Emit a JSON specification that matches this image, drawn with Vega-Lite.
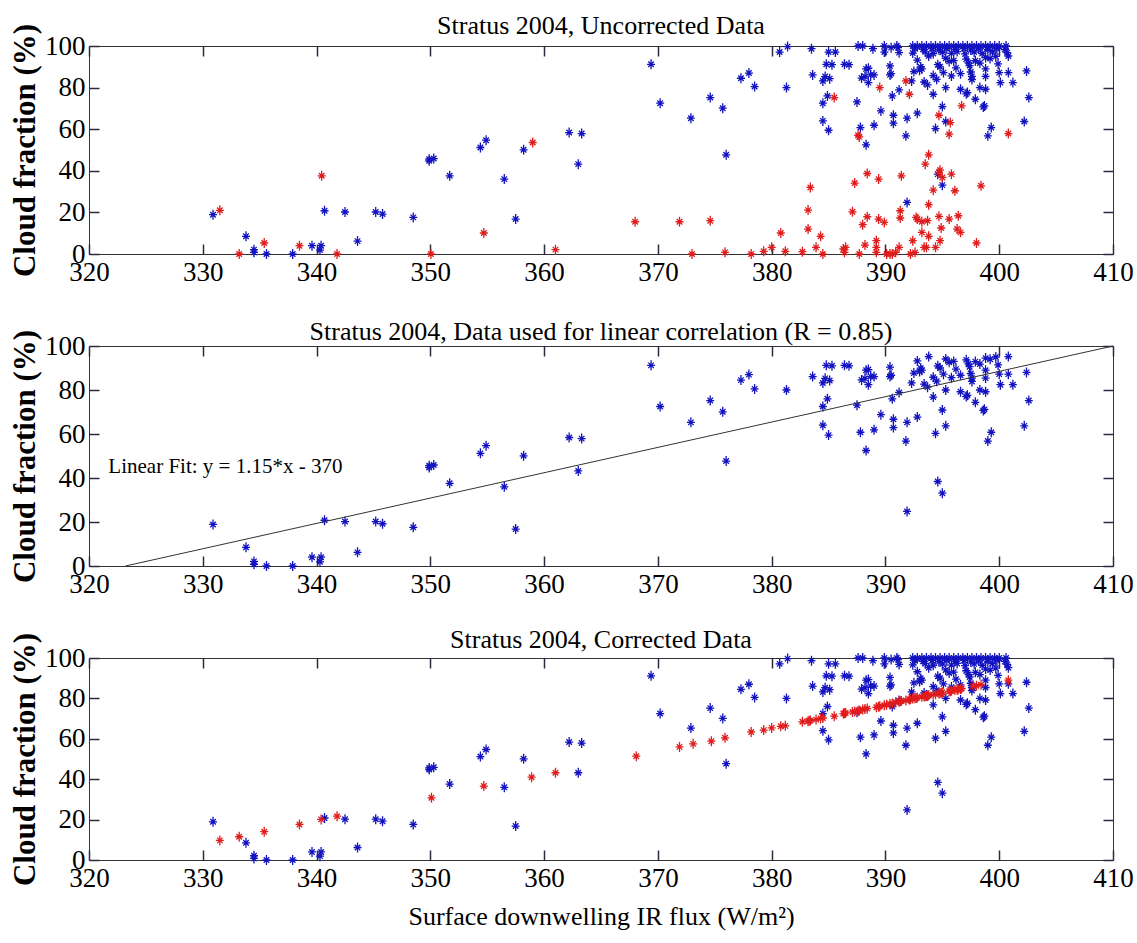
{
"$schema": "https://vega.github.io/schema/vega-lite/v6.json",
"padding": {"left": 8, "top": 12, "right": 5, "bottom": 2},
"spacing": 92,
"bounds": "flush",
"config": {
  "font": "Liberation Serif",
  "view": {"stroke": "#333", "strokeWidth": 1},
  "axis": {"grid": false, "domain": false, "labelFontSize": 27, "labelColor": "#000", "labelFont": "Liberation Serif", "titleFont": "Liberation Serif", "titleColor": "#000"},
  "title": {"fontSize": 26, "fontWeight": "normal", "font": "Liberation Serif", "color": "#000", "offset": -16}
},
"datasets": {
  "blue": [
    {"x":330.9,"y":18.9},{"x":333.8,"y":8.5},{"x":334.5,"y":2.1},{"x":334.5,"y":0.8},{"x":335.6,"y":0},{"x":337.9,"y":0},{"x":339.6,"y":4},{"x":340.4,"y":4},{"x":340.3,"y":1.9},{"x":340.7,"y":20.8},{"x":342.5,"y":20.2},{"x":343.6,"y":6.2},{"x":345.2,"y":20.2},{"x":345.8,"y":19.2},{"x":348.5,"y":17.6},{"x":349.9,"y":44.8},{"x":349.9,"y":45.6},{"x":350.3,"y":45.9},{"x":351.7,"y":37.6},{"x":354.4,"y":51.2},{"x":354.9,"y":54.7},{"x":356.5,"y":36},{"x":357.5,"y":16.8},{"x":358.2,"y":50.1},{"x":362.2,"y":58.4},{"x":363.3,"y":57.9},{"x":363.0,"y":43.2},
    {"x":369.4,"y":91.2},{"x":370.2,"y":72.5},{"x":372.9,"y":65.3},{"x":374.6,"y":75.2},{"x":375.7,"y":70.1},{"x":376.0,"y":47.7},{"x":377.3,"y":84.5},{"x":378.0,"y":87},{"x":378.5,"y":80.5},{"x":380.7,"y":97.1},{"x":381.4,"y":99.7},{"x":381.3,"y":80},{"x":383.5,"y":98.7},{"x":383.6,"y":86.1},{"x":384.5,"y":83.2},{"x":384.7,"y":85.3},{"x":384.8,"y":91.2},{"x":385.0,"y":97.1},{"x":385.6,"y":97.1},{"x":384.9,"y":76},{"x":384.5,"y":72.5},{"x":384.5,"y":64},{"x":385.0,"y":59.5},{"x":386.4,"y":91.2},{"x":387.5,"y":73.1},{"x":387.6,"y":100},{"x":388.0,"y":100},{"x":387.8,"y":60.8},{"x":388.2,"y":85.3},{"x":388.3,"y":52.5},{"x":388.5,"y":89.3},{"x":388.5,"y":82.4},{"x":388.9,"y":98.7},{"x":389.0,"y":86.1},{"x":389.0,"y":61.9},{"x":389.6,"y":68.8},{"x":389.9,"y":97.1},{"x":390.4,"y":90.4},{"x":390.5,"y":86.7},{"x":390.6,"y":76},{"x":390.7,"y":66.7},{"x":390.7,"y":62.9},{"x":391.2,"y":78.9},{"x":390.5,"y":99.2},{"x":391.1,"y":99.2},{"x":391.2,"y":96.8},{"x":391.8,"y":56.8},{"x":391.9,"y":65.3},{"x":391.9,"y":24.8},{"x":392.3,"y":83.2},{"x":392.5,"y":87.7},{"x":392.8,"y":67.7},{"x":393.1,"y":89.9},{"x":393.4,"y":82.7},{"x":393.7,"y":81.3},{"x":394.2,"y":76.8},{"x":394.4,"y":60.3},{"x":394.6,"y":38.4},{"x":395.0,"y":33.1},{"x":395.0,"y":70.9},{"x":395.3,"y":63.7},{"x":394.5,"y":84},{"x":395.3,"y":80},{"x":395.1,"y":87.2},{"x":395.8,"y":85.6},{"x":396.6,"y":79.2},{"x":397.2,"y":77.6},{"x":396.6,"y":86.7},{"x":397.5,"y":87.5},{"x":397.9,"y":74.4},{"x":398.3,"y":80},{"x":398.8,"y":79.2},{"x":398.7,"y":71.2},{"x":399.0,"y":56.8},{"x":399.3,"y":60.8},{"x":400.0,"y":87.2},{"x":400.1,"y":82.4},{"x":400.8,"y":87.2},{"x":401.2,"y":82.4},{"x":402.2,"y":63.7},{"x":402.4,"y":88},{"x":402.6,"y":75.2},{"x":400.6,"y":100},{"x":400.8,"y":95.2},
    {"x":392.8,"y":93.2},{"x":393.8,"y":95.2},{"x":394.6,"y":91},{"x":394.8,"y":90},{"x":395.6,"y":92.6},{"x":396.0,"y":93},{"x":397.1,"y":93.7},{"x":397.3,"y":91.9},{"x":397.4,"y":90.6},{"x":397.9,"y":92.9},{"x":398.8,"y":94.5},{"x":399.2,"y":94},{"x":399.7,"y":95},{"x":399.9,"y":91.4},{"x":398.8,"y":89},{"x":398.8,"y":85.4},{"x":397.6,"y":85.4},{"x":397.6,"y":83.9},{"x":393.2,"y":89},{"x":393.0,"y":88.4},{"x":390.4,"y":86.1},{"x":388.3,"y":89},{"x":387.9,"y":84.6},{"x":388.7,"y":86.1},{"x":386.8,"y":91},{"x":385.3,"y":91},{"x":385.1,"y":84.3},{"x":394.2,"y":85.8},{"x":398.6,"y":70.7},{"x":397.1,"y":77},{"x":396.2,"y":89.5},{"x":395.3,"y":94.1},{"x":398.3,"y":91.8},
    {"x":389.9,"y":100},{"x":391.0,"y":100},{"x":392.4,"y":100},{"x":392.8,"y":100},{"x":393.2,"y":100},{"x":393.6,"y":100},{"x":394.0,"y":100},{"x":394.4,"y":100},{"x":394.8,"y":100},{"x":395.2,"y":100},{"x":395.6,"y":100},{"x":396.0,"y":100},{"x":396.4,"y":100},{"x":396.8,"y":100},{"x":397.2,"y":100},{"x":397.6,"y":100},{"x":398.0,"y":100},{"x":398.4,"y":100},{"x":398.8,"y":100},{"x":399.2,"y":100},{"x":399.6,"y":100},{"x":400.0,"y":100},
    {"x":392.6,"y":98.6},{"x":393.3,"y":98.4},{"x":394.1,"y":98.8},{"x":394.7,"y":98.2},{"x":395.4,"y":98.7},{"x":396.1,"y":98.3},{"x":396.9,"y":98.8},{"x":397.5,"y":98.1},{"x":398.2,"y":98.6},{"x":399.0,"y":98.2},{"x":399.8,"y":98.7},{"x":400.5,"y":98.3},
    {"x":392.4,"y":96.6},{"x":393.5,"y":97.2},{"x":394.2,"y":96.4},{"x":395.0,"y":97.0},{"x":395.8,"y":96.5},{"x":396.3,"y":97.3},{"x":397.0,"y":96.2},{"x":397.8,"y":97.1},{"x":398.5,"y":96.4},{"x":399.4,"y":97.2},{"x":400.7,"y":96.8}
  ],
  "red1": [
    {"x":331.5,"y":21},{"x":333.2,"y":0},{"x":335.4,"y":5.3},{"x":338.5,"y":4},{"x":340.45,"y":37.6},{"x":341.8,"y":0},{"x":350.05,"y":0},{"x":354.7,"y":10.1},{"x":359.0,"y":53.6},{"x":361.0,"y":2.1},
    {"x":368.0,"y":15.5},{"x":371.9,"y":15.5},{"x":373.0,"y":0},{"x":374.6,"y":16},{"x":375.9,"y":0.8},{"x":378.2,"y":0},{"x":379.3,"y":1.3},{"x":380.0,"y":3.2},{"x":381.2,"y":1.3},{"x":380.8,"y":10.1},{"x":382.7,"y":1.1},{"x":383.2,"y":12},{"x":383.2,"y":21.1},{"x":383.4,"y":32},{"x":383.9,"y":3.2},{"x":384.3,"y":8.5},{"x":384.5,"y":0},{"x":385.5,"y":75.2},{"x":386.3,"y":2.4},{"x":386.4,"y":0.8},{"x":386.5,"y":3.2},{"x":387.1,"y":20.3},{"x":387.3,"y":34.1},{"x":387.6,"y":57.1},{"x":387.7,"y":56.3},{"x":387.7,"y":0},{"x":388.0,"y":14.1},{"x":388.2,"y":4.3},{"x":388.4,"y":17.9},{"x":388.4,"y":38.7},{"x":389.2,"y":6.4},{"x":389.2,"y":0.8},{"x":389.2,"y":3.2},{"x":389.4,"y":16.8},{"x":389.4,"y":36},{"x":389.5,"y":80},{"x":389.9,"y":15.2},{"x":390.1,"y":0},{"x":390.4,"y":0},{"x":390.6,"y":0},{"x":390.9,"y":0.8},{"x":391.2,"y":3.2},{"x":391.3,"y":17.3},{"x":391.3,"y":20.8},{"x":391.4,"y":37.6},{"x":391.8,"y":83.2},{"x":392.1,"y":76.8},{"x":392.2,"y":0},{"x":392.6,"y":0.8},{"x":392.4,"y":6.4},{"x":392.7,"y":17.6},{"x":392.8,"y":16.8},{"x":393.2,"y":15.5},{"x":393.2,"y":10.4},{"x":393.4,"y":3.2},{"x":393.5,"y":43.2},{"x":393.6,"y":3.2},{"x":393.7,"y":16},{"x":393.8,"y":8.5},{"x":393.8,"y":23.7},{"x":393.8,"y":47.7},{"x":394.4,"y":3.2},{"x":394.7,"y":39.2},{"x":394.7,"y":66.7},{"x":394.8,"y":40.3},{"x":394.8,"y":6.4},{"x":394.9,"y":12.5},{"x":395.0,"y":36.8},{"x":394.7,"y":18.1},{"x":394.2,"y":30.7},{"x":395.6,"y":16.8},{"x":395.7,"y":63.2},{"x":395.6,"y":57.6},{"x":395.8,"y":38.4},{"x":396.1,"y":30.4},{"x":396.3,"y":12},{"x":396.4,"y":18.4},{"x":396.6,"y":10.4},{"x":396.7,"y":71.2},{"x":398.0,"y":5.3},{"x":398.4,"y":32.8},{"x":400.8,"y":57.9}
  ],
  "red3": [
    {"x":331.5,"y":9.7},{"x":333.2,"y":11.5},{"x":335.4,"y":14},{"x":338.5,"y":17.6},{"x":340.4,"y":20.1},{"x":341.8,"y":21.7},{"x":350.1,"y":30.8},{"x":354.7,"y":36.6},{"x":358.9,"y":41},{"x":361.0,"y":43.2},
    {"x":368.1,"y":51.4},{"x":371.9,"y":56},{"x":373.1,"y":57.5},{"x":374.7,"y":58.8},{"x":375.9,"y":60.5},{"x":378.2,"y":63.4},{"x":379.3,"y":64.3},{"x":380.0,"y":65.4},{"x":380.8,"y":66.2},{"x":381.2,"y":66.4},{"x":382.7,"y":68.4},{"x":383.2,"y":68.7},{"x":383.3,"y":68.9},{"x":383.4,"y":69.0},{"x":383.9,"y":69.5},{"x":384.3,"y":70.1},{"x":384.5,"y":70.3},{"x":385.5,"y":71.2},{"x":386.3,"y":72.5},{"x":386.4,"y":72.6},{"x":386.5,"y":72.8},{"x":387.1,"y":73.3},{"x":387.3,"y":73.5},{"x":387.6,"y":73.8},{"x":387.7,"y":74.0},{"x":388.0,"y":74.5},{"x":388.2,"y":74.8},{"x":388.4,"y":75.0},{"x":389.2,"y":75.6},{"x":389.4,"y":75.9},{"x":389.5,"y":76.1},{"x":389.9,"y":76.6},{"x":390.1,"y":76.9},{"x":390.4,"y":77.2},{"x":390.6,"y":77.5},{"x":390.9,"y":78.1},{"x":391.2,"y":78.4},{"x":391.3,"y":78.6},{"x":391.4,"y":78.7},{"x":391.8,"y":79.0},{"x":392.1,"y":79.5},{"x":392.2,"y":79.6},{"x":392.4,"y":79.9},{"x":392.6,"y":80.1},{"x":392.7,"y":80.2},{"x":392.8,"y":80.4},{"x":393.2,"y":80.8},{"x":393.4,"y":81.0},{"x":393.5,"y":81.1},{"x":393.6,"y":81.2},{"x":393.7,"y":81.4},{"x":393.8,"y":81.5},{"x":394.2,"y":81.9},{"x":394.4,"y":82.1},{"x":394.7,"y":82.4},{"x":394.8,"y":82.6},{"x":394.9,"y":82.8},{"x":395.0,"y":82.9},{"x":395.6,"y":83.5},{"x":395.7,"y":83.6},{"x":395.8,"y":83.8},{"x":396.1,"y":84.1},{"x":396.3,"y":84.3},{"x":396.4,"y":84.4},{"x":396.6,"y":84.7},{"x":396.7,"y":84.9},{"x":397.7,"y":86.0},{"x":398.0,"y":86.3},{"x":398.4,"y":86.8},{"x":400.8,"y":89}
  ],
  "fit": [{"x":323.2,"y":0},{"x":410,"y":100}],
  "note": [{"x":321.7,"y":45,"label":"Linear Fit: y = 1.15*x - 370"}]
},
"vconcat": [
  {
    "title": "Stratus 2004, Uncorrected Data",
    "width": 1024, "height": 208,
    "resolve": {"axis": {"x": "independent", "y": "independent"}},
    "encoding": {
      "x": {"field": "x", "type": "quantitative", "scale": {"domain": [320, 410], "nice": false, "zero": false}, "axis": null},
      "y": {"field": "y", "type": "quantitative", "scale": {"domain": [0, 100], "nice": false}, "axis": null}
    },
    "layer": [
      {"data": {"name": "blue"}, "mark": {"type": "point", "shape": "M0,-1L0,1M-0.8,0L0.8,0M-0.55,-0.55L0.55,0.55M-0.55,0.55L0.55,-0.55", "size": 100, "filled": false, "stroke": "#1212c0", "strokeWidth": 1.3, "opacity": 1},
       "encoding": {
         "x": {"field": "x", "type": "quantitative", "scale": {"domain": [320, 410], "nice": false, "zero": false}, "axis": {"orient": "bottom", "values": [320,330,340,350,360,370,380,390,400,410], "title": null, "labelFlush": false, "ticks": false, "labelPadding": 5}},
         "y": {"field": "y", "type": "quantitative", "scale": {"domain": [0, 100], "nice": false}, "axis": {"orient": "left", "values": [0,20,40,60,80,100], "title": "Cloud fraction (%)", "titleFontSize": 31, "titleFontWeight": "bold", "titlePadding": 3, "ticks": false, "labelPadding": 4}}
       }},
      {"data": {"name": "red1"}, "mark": {"type": "point", "shape": "M0,-1L0,1M-0.8,0L0.8,0M-0.55,-0.55L0.55,0.55M-0.55,0.55L0.55,-0.55", "size": 100, "filled": false, "stroke": "#e01c1c", "strokeWidth": 1.3, "opacity": 1}},
      {"data": {"name": "fit"}, "mark": {"type": "point", "opacity": 0},
       "encoding": {
         "x": {"field": "x", "type": "quantitative", "scale": {"domain": [320, 410], "nice": false, "zero": false}, "axis": {"orient": "bottom", "offset": -10, "values": [320,330,340,350,360,370,380,390,400,410], "labels": false, "ticks": true, "tickSize": 10, "tickColor": "#2a2a40", "tickWidth": 1.5, "title": null}},
         "y": {"field": "y", "type": "quantitative", "scale": {"domain": [0, 100], "nice": false}, "axis": {"orient": "left", "offset": -10, "values": [0,20,40,60,80,100], "labels": false, "ticks": true, "tickSize": 10, "tickColor": "#2a2a40", "tickWidth": 1.5, "title": null}}
       }},
      {"data": {"name": "fit"}, "mark": {"type": "point", "opacity": 0},
       "encoding": {
         "x": {"field": "x", "type": "quantitative", "scale": {"domain": [320, 410], "nice": false, "zero": false}, "axis": {"orient": "top", "offset": -10, "values": [320,330,340,350,360,370,380,390,400,410], "labels": false, "ticks": true, "tickSize": 10, "tickColor": "#2a2a40", "tickWidth": 1.5, "title": null}},
         "y": {"field": "y", "type": "quantitative", "scale": {"domain": [0, 100], "nice": false}, "axis": {"orient": "right", "offset": -10, "values": [0,20,40,60,80,100], "labels": false, "ticks": true, "tickSize": 10, "tickColor": "#2a2a40", "tickWidth": 1.5, "title": null}}
       }}
    ]
  },
  {
    "title": "Stratus 2004, Data used for linear correlation (R = 0.85)",
    "width": 1024, "height": 220,
    "resolve": {"axis": {"x": "independent", "y": "independent"}},
    "encoding": {
      "x": {"field": "x", "type": "quantitative", "scale": {"domain": [320, 410], "nice": false, "zero": false}, "axis": null},
      "y": {"field": "y", "type": "quantitative", "scale": {"domain": [0, 100], "nice": false}, "axis": null}
    },
    "layer": [
      {"data": {"name": "blue"}, "transform": [{"filter": "datum.y < 96"}], "mark": {"type": "point", "shape": "M0,-1L0,1M-0.8,0L0.8,0M-0.55,-0.55L0.55,0.55M-0.55,0.55L0.55,-0.55", "size": 100, "filled": false, "stroke": "#1212c0", "strokeWidth": 1.3, "opacity": 1},
       "encoding": {
         "x": {"field": "x", "type": "quantitative", "scale": {"domain": [320, 410], "nice": false, "zero": false}, "axis": {"orient": "bottom", "values": [320,330,340,350,360,370,380,390,400,410], "title": null, "labelFlush": false, "ticks": false, "labelPadding": 5}},
         "y": {"field": "y", "type": "quantitative", "scale": {"domain": [0, 100], "nice": false}, "axis": {"orient": "left", "values": [0,20,40,60,80,100], "title": "Cloud fraction (%)", "titleFontSize": 31, "titleFontWeight": "bold", "titlePadding": 3, "ticks": false, "labelPadding": 4}}
       }},
      {"data": {"name": "fit"}, "mark": {"type": "line", "color": "#333", "strokeWidth": 1}},
      {"data": {"name": "note"}, "mark": {"type": "text", "align": "left", "baseline": "middle", "fontSize": 21, "font": "Liberation Serif", "color": "#000"}, "encoding": {"text": {"field": "label"}}},
      {"data": {"name": "fit"}, "mark": {"type": "point", "opacity": 0},
       "encoding": {
         "x": {"field": "x", "type": "quantitative", "scale": {"domain": [320, 410], "nice": false, "zero": false}, "axis": {"orient": "bottom", "offset": -10, "values": [320,330,340,350,360,370,380,390,400,410], "labels": false, "ticks": true, "tickSize": 10, "tickColor": "#2a2a40", "tickWidth": 1.5, "title": null}},
         "y": {"field": "y", "type": "quantitative", "scale": {"domain": [0, 100], "nice": false}, "axis": {"orient": "left", "offset": -10, "values": [0,20,40,60,80,100], "labels": false, "ticks": true, "tickSize": 10, "tickColor": "#2a2a40", "tickWidth": 1.5, "title": null}}
       }},
      {"data": {"name": "fit"}, "mark": {"type": "point", "opacity": 0},
       "encoding": {
         "x": {"field": "x", "type": "quantitative", "scale": {"domain": [320, 410], "nice": false, "zero": false}, "axis": {"orient": "top", "offset": -10, "values": [320,330,340,350,360,370,380,390,400,410], "labels": false, "ticks": true, "tickSize": 10, "tickColor": "#2a2a40", "tickWidth": 1.5, "title": null}},
         "y": {"field": "y", "type": "quantitative", "scale": {"domain": [0, 100], "nice": false}, "axis": {"orient": "right", "offset": -10, "values": [0,20,40,60,80,100], "labels": false, "ticks": true, "tickSize": 10, "tickColor": "#2a2a40", "tickWidth": 1.5, "title": null}}
       }}
    ]
  },
  {
    "title": {"text": "Stratus 2004, Corrected Data", "offset": -21},
    "width": 1024, "height": 202,
    "resolve": {"axis": {"x": "independent", "y": "independent"}},
    "encoding": {
      "x": {"field": "x", "type": "quantitative", "scale": {"domain": [320, 410], "nice": false, "zero": false}, "axis": null},
      "y": {"field": "y", "type": "quantitative", "scale": {"domain": [0, 100], "nice": false}, "axis": null}
    },
    "layer": [
      {"data": {"name": "blue"}, "mark": {"type": "point", "shape": "M0,-1L0,1M-0.8,0L0.8,0M-0.55,-0.55L0.55,0.55M-0.55,0.55L0.55,-0.55", "size": 100, "filled": false, "stroke": "#1212c0", "strokeWidth": 1.3, "opacity": 1},
       "encoding": {
         "x": {"field": "x", "type": "quantitative", "scale": {"domain": [320, 410], "nice": false, "zero": false}, "axis": {"orient": "bottom", "values": [320,330,340,350,360,370,380,390,400,410], "title": "Surface downwelling IR flux (W/m²)", "titleFontSize": 26, "titleFontWeight": "normal", "titlePadding": 12, "labelFlush": false, "ticks": false, "labelPadding": 5}},
         "y": {"field": "y", "type": "quantitative", "scale": {"domain": [0, 100], "nice": false}, "axis": {"orient": "left", "values": [0,20,40,60,80,100], "title": "Cloud fraction (%)", "titleFontSize": 31, "titleFontWeight": "bold", "titlePadding": 3, "ticks": false, "labelPadding": 4}}
       }},
      {"data": {"name": "red3"}, "mark": {"type": "point", "shape": "M0,-1L0,1M-0.8,0L0.8,0M-0.55,-0.55L0.55,0.55M-0.55,0.55L0.55,-0.55", "size": 100, "filled": false, "stroke": "#e01c1c", "strokeWidth": 1.3, "opacity": 1}},
      {"data": {"name": "fit"}, "mark": {"type": "point", "opacity": 0},
       "encoding": {
         "x": {"field": "x", "type": "quantitative", "scale": {"domain": [320, 410], "nice": false, "zero": false}, "axis": {"orient": "bottom", "offset": -10, "values": [320,330,340,350,360,370,380,390,400,410], "labels": false, "ticks": true, "tickSize": 10, "tickColor": "#2a2a40", "tickWidth": 1.5, "title": null}},
         "y": {"field": "y", "type": "quantitative", "scale": {"domain": [0, 100], "nice": false}, "axis": {"orient": "left", "offset": -10, "values": [0,20,40,60,80,100], "labels": false, "ticks": true, "tickSize": 10, "tickColor": "#2a2a40", "tickWidth": 1.5, "title": null}}
       }},
      {"data": {"name": "fit"}, "mark": {"type": "point", "opacity": 0},
       "encoding": {
         "x": {"field": "x", "type": "quantitative", "scale": {"domain": [320, 410], "nice": false, "zero": false}, "axis": {"orient": "top", "offset": -10, "values": [320,330,340,350,360,370,380,390,400,410], "labels": false, "ticks": true, "tickSize": 10, "tickColor": "#2a2a40", "tickWidth": 1.5, "title": null}},
         "y": {"field": "y", "type": "quantitative", "scale": {"domain": [0, 100], "nice": false}, "axis": {"orient": "right", "offset": -10, "values": [0,20,40,60,80,100], "labels": false, "ticks": true, "tickSize": 10, "tickColor": "#2a2a40", "tickWidth": 1.5, "title": null}}
       }}
    ]
  }
]
}
